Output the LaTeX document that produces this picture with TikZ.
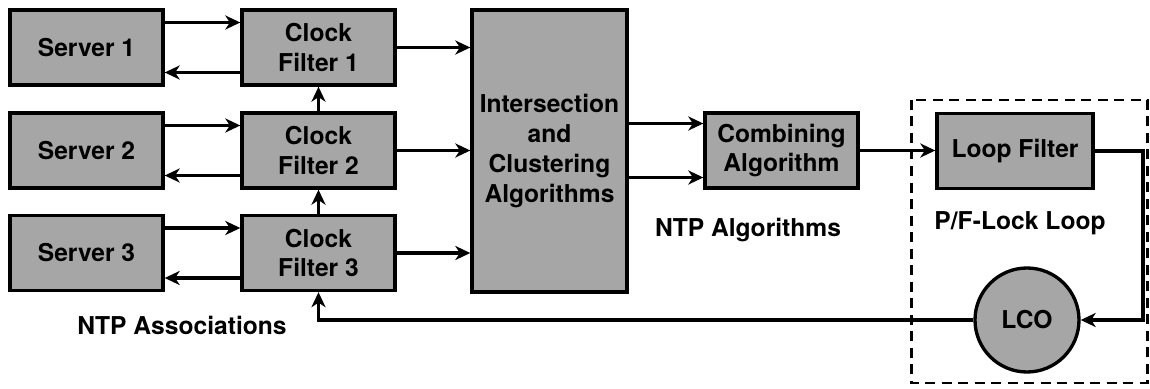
\documentclass[tikz,border=0pt]{standalone}
\usepackage{fontspec}
\setmainfont{TeX Gyre Heros}
\usetikzlibrary{arrows.meta,positioning}

\begin{document}
\begin{tikzpicture}[
		every node/.append style={font=\fontsize{14}{17}\selectfont\bfseries},
		box/.style={draw, line width=1.9pt, fill=black!35, minimum width=3.06cm, minimum height=1.5cm, align=center, inner sep=1pt},
		flow/.style={line width=1.9pt, -{Stealth[length=0.3cm, width=0.28cm, inset=0.09cm]}}
	]
	\useasboundingbox (0,0) rectangle (23,7.76);

	% Servers
	\node[box] (srv1) at (1.73,6.81) {Server 1};
	\node[box] (srv2) at (1.73,4.75) {Server 2};
	\node[box] (srv3) at (1.73,2.70) {Server 3};

	% Clock filters
	\node[box] (cf1) at (6.37,6.81) {Clock\\Filter 1};
	\node[box] (cf2) at (6.37,4.75) {Clock\\Filter 2};
	\node[box] (cf3) at (6.37,2.70) {Clock\\Filter 3};

	% Algorithms
	\node[box, minimum width=3.1cm, minimum height=5.64cm] (isect) at (10.99,4.74) {Intersection\\and\\Clustering\\Algorithms};
	\node[box] (comb) at (15.63,4.75) {Combining\\Algorithm};

	% Loop
	\node[box, minimum width=3.12cm] (loopf) at (20.3,4.74) {Loop Filter};
	\node[draw, circle, line width=1.9pt, fill=black!35, minimum size=2.08cm, inner sep=0pt] (lco) at (20.54,1.36) {LCO};
	\coordinate (corner) at (22.86,4.74);
	\draw[line width=1.7pt, dash pattern=on 0.2cm off 0.13cm] (18.22,5.76) rectangle (22.94,0.1);

	% Arrows
	\foreach \s/\c in {srv1/cf1, srv2/cf2, srv3/cf3} {
		\draw[flow] ([yshift=0.5cm]\s.east) -- ([yshift=0.5cm]\c.west);
		\draw[flow] ([yshift=-0.5cm]\c.west) -- ([yshift=-0.5cm]\s.east);
		\draw[flow] (\c.east) -- (\c.east -| isect.west);
	}
	\draw[flow] (cf2.north) -- (cf1.south);
	\draw[flow] (cf3.north) -- (cf2.south);
	\draw[flow] ([yshift=0.54cm]comb.west -| isect.east) -- ([yshift=0.54cm]comb.west);
	\draw[flow] ([yshift=-0.54cm]comb.west -| isect.east) -- ([yshift=-0.54cm]comb.west);
	\draw[flow] (comb.east) -- (comb.east -| loopf.west);
	\draw[flow] (loopf.east) -- (corner) |- (lco.east);
	\draw[flow] (lco.west) -| (cf3.south);

	% Labels
	\node (assoc) at (3.64,1.26) {NTP Associations};
	\node (algos) at (14.96,3.16) {NTP Algorithms};
	\node (pll) at (20.4,3.3) {P/F-Lock Loop};
\end{tikzpicture}
\end{document}
